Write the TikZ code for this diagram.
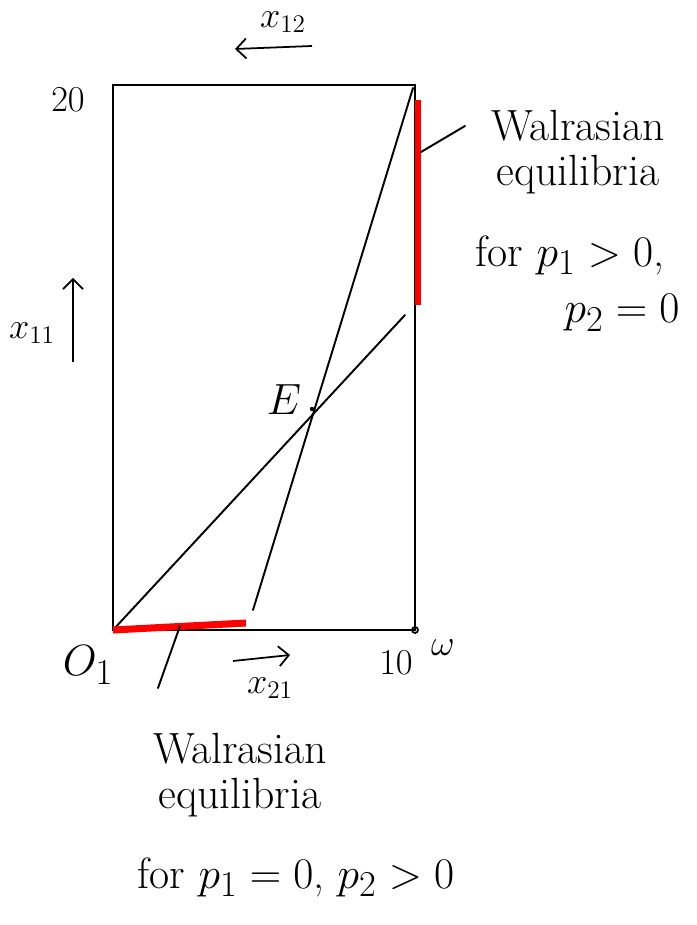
\documentclass[tikz,border=0pt]{standalone}
\usepackage{amsmath}
\usepackage{xcolor}
\usetikzlibrary{arrows.meta,positioning,calc}
\definecolor{eqred}{HTML}{FF0000}
\tikzset{
  ink/.style={draw, line width=1.1pt, line cap=round},
  redseg/.style={draw=eqred, line width=3pt},
  arr/.style={-{Straight Barb[length=2mm]}, line width=1pt},
  lbl/.style={font=\huge, inner sep=1pt},
  note/.style={font=\Huge, align=center, inner sep=1pt}
}

\begin{document}
\begin{tikzpicture}[x=0.02cm, y=-0.02cm]
\useasboundingbox (0,0) rectangle (696,925);
% box corners
\coordinate (o1) at (113,630);
\coordinate (br) at (415,630);
\coordinate (tr) at (415,85);
\coordinate (tl) at (113,85);
\draw[ink] (o1) -- (br) -- (tr) -- (tl) -- cycle;
\draw[line width=1pt] (br) circle (3);
% offer curves
\coordinate (d1) at (405,315);
\coordinate (s1) at (253,610);
\coordinate (s2) at (413,88);
\draw[ink] (o1) -- (d1);
\draw[ink] (s1) -- (s2);
\coordinate (eq) at (312,409);
\fill (eq) circle (2.2);
\node[font=\Huge] (E) at (284,400) {$E$};
% red segments
\draw[redseg] (418,100) coordinate (r1) -- (418,305) coordinate (r2);
\draw[redseg, line width=4pt] (o1) -- (246,623) coordinate (b1);
% axis labels
\node[lbl] (n20) at (68,100) {$20$};
\node[lbl] (n10) at (396,663) {$10$};
\node[lbl] (omega) at (443,648) {$\omega$};
\node[font=\Huge] (O1) at (88,665) {$O_1$};
\node[lbl] (x12) at (283,22) {$x_{12}$};
\coordinate (a12s) at (312,46);
\coordinate (a12e) at (235,49);
\draw[arr] (a12s) -- (a12e);
\node[lbl] (x11) at (32,333) {$x_{11}$};
\coordinate (a11s) at (73,362);
\coordinate (a11e) at (73,278);
\draw[arr] (a11s) -- (a11e);
\node[lbl] (x21) at (270,688) {$x_{21}$};
\coordinate (a21s) at (233,661);
\coordinate (a21e) at (290,655);
\draw[arr] (a21s) -- (a21e);
% notes
\node[note] (wr) at (578,152) {Walrasian\\[-4pt]equilibria};
\node[note] (wrp1) at (570,255) {for $p_1>0$,};
\node[note] (wrp2) at (622,313) {$p_2=0$};
\coordinate (pr) at (465,126);
\draw[ink] (r1 |- 0,152) ++(3,0) coordinate (pr0) -- (pr);
\node[note] (wb) at (240,775) {Walrasian\\[-4pt]equilibria};
\node[note] (wbp) at (296,877) {for $p_1=0$, $p_2>0$};
\coordinate (pb0) at (180,626);
\coordinate (pb) at (158,688);
\draw[ink] (pb0) -- (pb);
\end{tikzpicture}
\end{document}
